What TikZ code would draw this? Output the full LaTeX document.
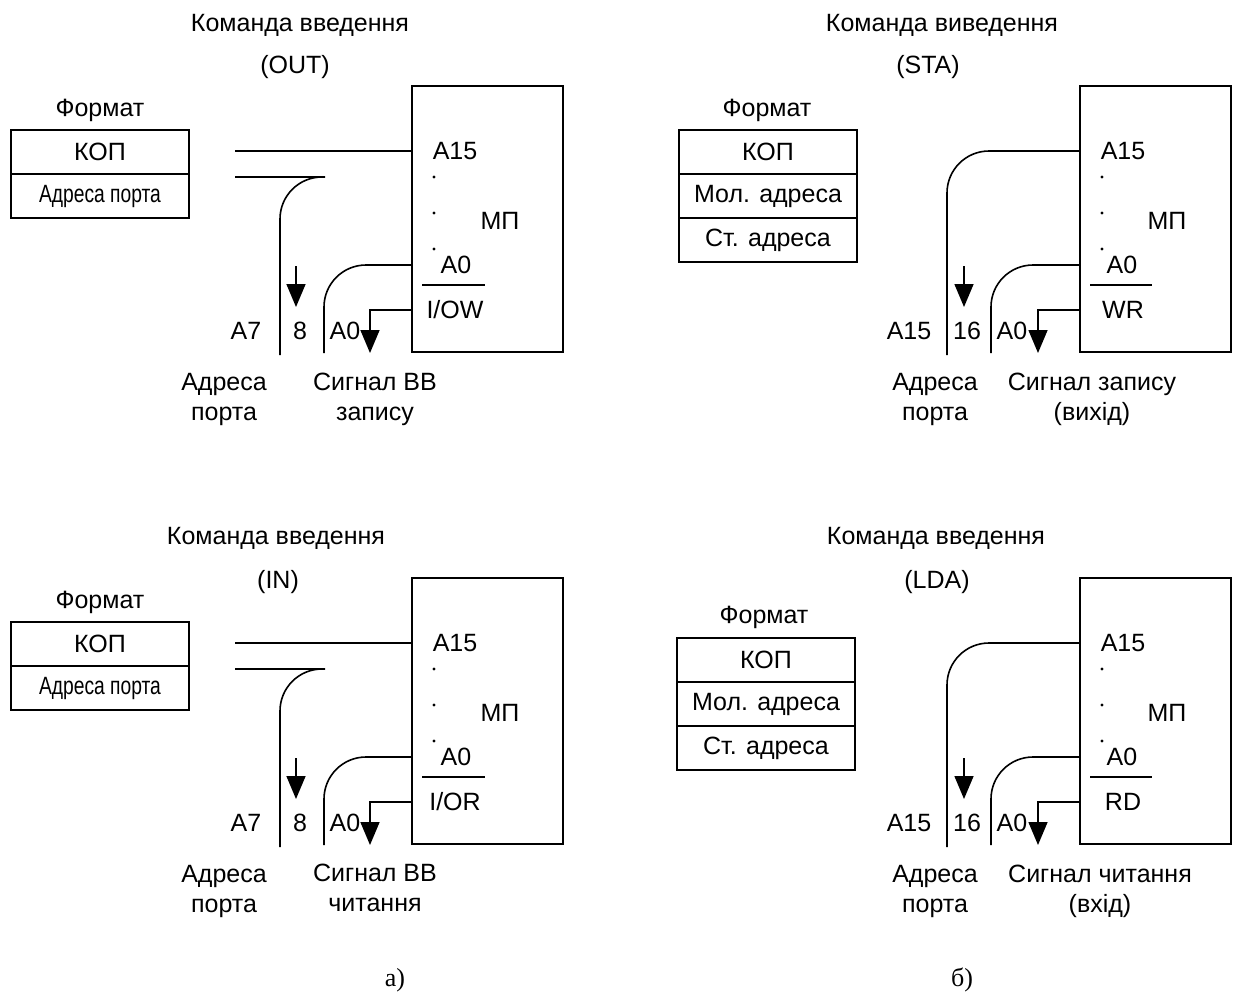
\documentclass[tikz,border=0pt]{standalone}
\usepackage{fontspec}
\setmainfont{Liberation Sans}
\newfontfamily\capfont{Liberation Serif}
\usetikzlibrary{arrows.meta, positioning, calc}

\begin{document}
\begin{tikzpicture}[
  x=0.5pt, y=-0.5pt,
  every node/.style={font=\fontsize{12.5}{15}\selectfont, inner sep=0pt, yshift=-1.5pt},
  cell/.style={
    draw, line width=0.8pt, outer sep=0pt, yshift=1.5pt,
    minimum width=89pt, minimum height=22pt
  },
  mpbox/.style={
    draw, line width=0.8pt, yshift=1.5pt,
    minimum width=75.5pt, minimum height=133pt
  },
  bus/.style={line width=0.8pt},
  curvebus/.style={line width=0.8pt, rounded corners=21pt},
  arrow/.style={line width=0.8pt, -{Triangle[length=11.5pt, width=9.5pt]}},
  note/.style={align=center},
  caption/.style={font=\capfont\fontsize{13}{15}\selectfont}
]
  \useasboundingbox (0,0) rectangle (1238,992);

  % Панель а), OUT
  \node (tita) at (300,22) {Команда введення};
  \node (opa) at (295,64) {(OUT)};
  \node (fmta) at (100,107) {Формат};
  \node[cell] (kopa) at (100,152) {КОП};
  \node[cell, below=0pt of kopa] (adra) {\scalebox{0.77}[1]{Адреса порта}};
  \node[mpbox] (mpa) at (487.5,219) {};
  \node (a15a) at (455,148) {A15};
  \node (mpla) at (500,218) {МП};
  \node (a0a) at (456,262) {A0};
  \node (iowa) at (455,307) {I/OW};
  \fill (434,177) circle (1.6) (434,213) circle (1.6) (434,249) circle (1.6);
  \draw[bus] (422,285) -- (485,285);
  \coordinate (busa) at (235,148);
  \coordinate (busb) at (235,174);
  \coordinate (turna) at (325,174);
  \coordinate (enda) at (280,352);
  \coordinate (a0enda) at (324,350);
  \coordinate (sigenda) at (370,350);
  \coordinate (arra) at (296,263);
  \draw[bus] (busa) -- (mpa.west |- busa);
  \draw[bus] (busb) -- (turna);
  \draw[curvebus] (turna) -| (enda);
  \draw[curvebus] (mpa.west |- a0a) -| (a0enda);
  \draw[arrow] (mpa.west |- iowa) -| (sigenda);
  \draw[arrow] (arra) -- ++(0,41);
  \node (a7a) at (246,328) {A7};
  \node (numa) at (300,328) {8};
  \node (a0la) at (345,328) {A0};
  \node[note] (porta) at (224,396) {Адреса\\порта};
  \node[note] (siga) at (375,396) {Сигнал ВВ\\запису};

  % Панель а), IN
  \node (titb) at (276,535) {Команда введення};
  \node (opb) at (278,579) {(IN)};
  \node (fmtb) at (100,599) {Формат};
  \node[cell] (kopb) at (100,644) {КОП};
  \node[cell, below=0pt of kopb] (adrb) {\scalebox{0.77}[1]{Адреса порта}};
  \node[mpbox] (mpb) at (487.5,711) {};
  \node (a15b) at (455,640) {A15};
  \node (mplb) at (500,710) {МП};
  \node (a0b) at (456,754) {A0};
  \node (iorb) at (455,799) {I/OR};
  \fill (434,669) circle (1.6) (434,705) circle (1.6) (434,741) circle (1.6);
  \draw[bus] (422,777) -- (485,777);
  \coordinate (busc) at (235,640);
  \coordinate (busd) at (235,666);
  \coordinate (turnb) at (325,666);
  \coordinate (endb) at (280,844);
  \coordinate (a0endb) at (324,842);
  \coordinate (sigendb) at (370,842);
  \coordinate (arrb) at (296,755);
  \draw[bus] (busc) -- (mpb.west |- busc);
  \draw[bus] (busd) -- (turnb);
  \draw[curvebus] (turnb) -| (endb);
  \draw[curvebus] (mpb.west |- a0b) -| (a0endb);
  \draw[arrow] (mpb.west |- iorb) -| (sigendb);
  \draw[arrow] (arrb) -- ++(0,41);
  \node (a7b) at (246,820) {A7};
  \node (numb) at (300,820) {8};
  \node (a0lb) at (345,820) {A0};
  \node[note] (portb) at (224,888) {Адреса\\порта};
  \node[note] (sigb) at (375,885) {Сигнал ВВ\\читання};

  % Панель б), STA
  \node (titc) at (942,22) {Команда виведення};
  \node (opc) at (928,64) {(STA)};
  \node (fmtc) at (767,107) {Формат};
  \node[cell] (kopc) at (768,152) {КОП};
  \node[cell, below=0pt of kopc] (lowc) {Мол. адреса};
  \node[cell, below=0pt of lowc] (highc) {Ст. адреса};
  \node[mpbox] (mpc) at (1155.5,219) {};
  \node (a15c) at (1123,148) {A15};
  \node (mplc) at (1167,218) {МП};
  \node (a0c) at (1122,262) {A0};
  \node (wrc) at (1123,307) {WR};
  \fill (1102,177) circle (1.6) (1102,213) circle (1.6) (1102,249) circle (1.6);
  \draw[bus] (1090,285) -- (1152,285);
  \coordinate (a15pc) at (1080,148);
  \coordinate (endc) at (947,352);
  \coordinate (a0endc) at (991,350);
  \coordinate (sigendc) at (1038,350);
  \coordinate (arrc) at (964,263);
  \draw[curvebus] (mpc.west |- a15pc) -| (endc);
  \draw[curvebus] (mpc.west |- a0c) -| (a0endc);
  \draw[arrow] (mpc.west |- wrc) -| (sigendc);
  \draw[arrow] (arrc) -- ++(0,41);
  \node (a15lc) at (909,328) {A15};
  \node (numc) at (967,328) {16};
  \node (a0lc) at (1012,328) {A0};
  \node[note] (portc) at (935,396) {Адреса\\порта};
  \node[note] (sigc) at (1092,396) {Сигнал запису\\(вихід)};

  % Панель б), LDA
  \node (titd) at (936,535) {Команда введення};
  \node (opd) at (937,579) {(LDA)};
  \node (fmtd) at (764,614) {Формат};
  \node[cell] (kopd) at (766,660) {КОП};
  \node[cell, below=0pt of kopd] (lowd) {Мол. адреса};
  \node[cell, below=0pt of lowd] (highd) {Ст. адреса};
  \node[mpbox] (mpd) at (1155.5,711) {};
  \node (a15d) at (1123,640) {A15};
  \node (mpld) at (1167,710) {МП};
  \node (a0d) at (1122,754) {A0};
  \node (rdd) at (1123,799) {RD};
  \fill (1102,669) circle (1.6) (1102,705) circle (1.6) (1102,741) circle (1.6);
  \draw[bus] (1090,777) -- (1152,777);
  \coordinate (a15pd) at (1080,640);
  \coordinate (endd) at (947,844);
  \coordinate (a0endd) at (991,842);
  \coordinate (sigendd) at (1038,842);
  \coordinate (arrd) at (964,755);
  \draw[curvebus] (mpd.west |- a15pd) -| (endd);
  \draw[curvebus] (mpd.west |- a0d) -| (a0endd);
  \draw[arrow] (mpd.west |- rdd) -| (sigendd);
  \draw[arrow] (arrd) -- ++(0,41);
  \node (a15ld) at (909,820) {A15};
  \node (numd) at (967,820) {16};
  \node (a0ld) at (1012,820) {A0};
  \node[note] (portd) at (935,888) {Адреса\\порта};
  \node[note] (sigd) at (1100,888) {Сигнал читання\\(вхід)};

  % Підписи
  \node[caption] (capa) at (395,977) {а)};
  \node[caption] (capb) at (962,977) {б)};

\end{tikzpicture}
\end{document}
